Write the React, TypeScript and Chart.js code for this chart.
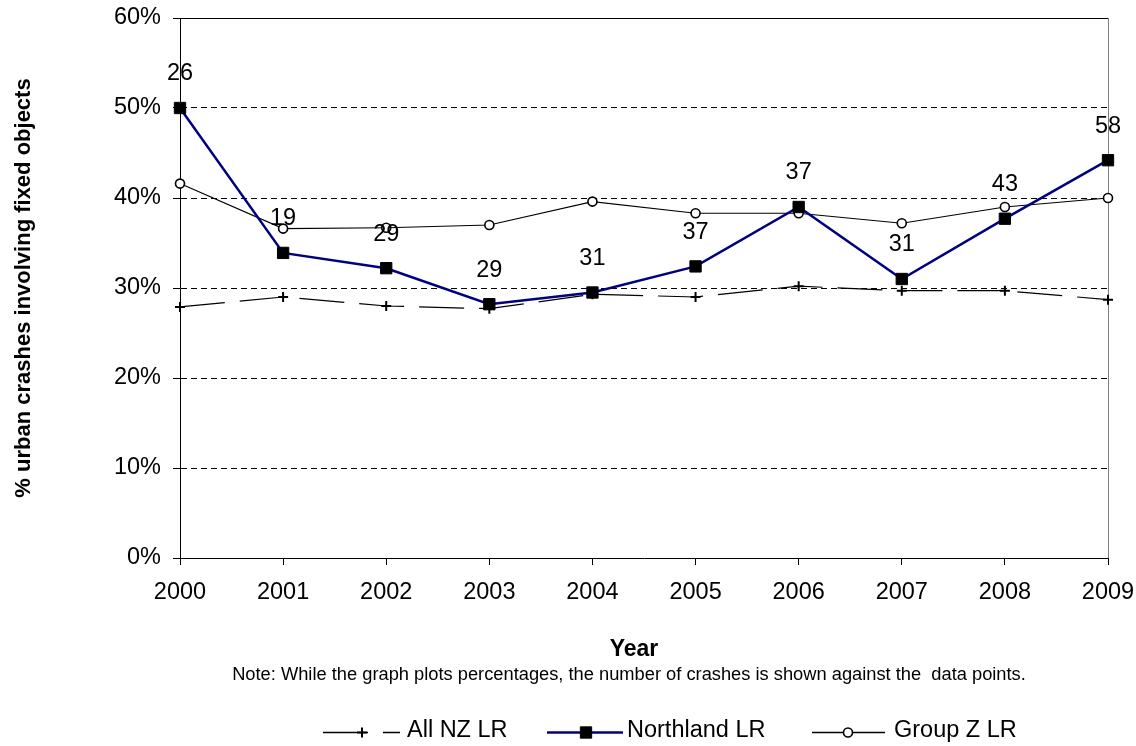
import React, { useEffect, useRef } from "react";
import { Chart, registerables } from "chart.js";

Chart.register(...registerables);

// ---- data ----
const years = ["2000", "2001", "2002", "2003", "2004", "2005", "2006", "2007", "2008", "2009"];
const allNZ = [27.9, 29.0, 28.0, 27.7, 29.3, 29.0, 30.2, 29.7, 29.7, 28.7];
const northland = [50.0, 33.9, 32.2, 28.2, 29.5, 32.4, 39.0, 31.0, 37.7, 44.2];
const groupZ = [41.6, 36.6, 36.7, 37.0, 39.6, 38.3, 38.3, 37.2, 39.0, 40.0];
const northlandCounts = [26, 19, 29, 29, 31, 37, 37, 31, 43, 58];
const seriesNames = ["All NZ LR", "Northland LR", "Group Z LR"];
const yMin = 0;
const yMax = 60;
const yStep = 10;
const yTitle = "% urban crashes involving fixed objects";
const xTitle = "Year";
const noteText = "Note: While the graph plots percentages, the number of crashes is shown against the  data points.";

const NAVY = "#000080";
const FONT = "'Liberation Sans', Arial, Helvetica, sans-serif";
const TEXT_SIZE = 23.5;

function drawMarker(ctx: CanvasRenderingContext2D, ds: any, x: number, y: number) {
  const r = ds.pointRadius;
  ctx.save();
  ctx.setLineDash([]);
  ctx.lineWidth = ds.pointBorderWidth;
  ctx.strokeStyle = ds.pointBorderColor;
  ctx.fillStyle = ds.pointBackgroundColor;
  if (ds.pointStyle === "cross") {
    ctx.beginPath();
    ctx.moveTo(x - r, y);
    ctx.lineTo(x + r, y);
    ctx.moveTo(x, y - r);
    ctx.lineTo(x, y + r);
    ctx.stroke();
  } else if (ds.pointStyle === "rect") {
    const s = Math.SQRT1_2 * r;
    ctx.beginPath();
    ctx.rect(x - s, y - s, 2 * s, 2 * s);
    ctx.fill();
    ctx.stroke();
  } else {
    ctx.beginPath();
    ctx.arc(x, y, r, 0, Math.PI * 2);
    ctx.fill();
    ctx.stroke();
  }
  ctx.restore();
}

export default function App() {
  const ref = useRef<HTMLCanvasElement>(null);

  useEffect(() => {
    const canvas = ref.current;
    if (!canvas) return;

    const countLabels = {
      id: "countLabels",
      afterDatasetsDraw(chart: any) {
        const idx = chart.data.datasets.findIndex((d: any) => d.label === seriesNames[1]);
        const meta = chart.getDatasetMeta(idx);
        const ctx = chart.ctx;
        ctx.save();
        ctx.font = `${TEXT_SIZE}px ${FONT}`;
        ctx.fillStyle = "#000";
        ctx.textAlign = "center";
        ctx.textBaseline = "middle";
        meta.data.forEach((pt: any, i: number) => {
          ctx.fillText(String(northlandCounts[i]), pt.x, pt.y - 34);
        });
        ctx.restore();
      },
    };

    const frame = {
      id: "frame",
      beforeDatasetsDraw(chart: any) {
        const { left, right, top, bottom } = chart.chartArea;
        const ctx = chart.ctx;
        ctx.save();
        ctx.setLineDash([]);
        ctx.lineWidth = 1;
        ctx.strokeStyle = "#000";
        ctx.beginPath();
        ctx.moveTo(left, top + 0.5);
        ctx.lineTo(right, top + 0.5);
        ctx.stroke();
        ctx.strokeStyle = "#808080";
        ctx.beginPath();
        ctx.moveTo(right + 0.5, top);
        ctx.lineTo(right + 0.5, bottom);
        ctx.stroke();
        ctx.restore();
      },
    };

    const bottomTexts = {
      id: "bottomTexts",
      afterDraw(chart: any) {
        const ctx = chart.ctx;
        ctx.save();
        ctx.fillStyle = "#000";
        ctx.textBaseline = "middle";
        ctx.textAlign = "center";
        ctx.font = `bold 23px ${FONT}`;
        ctx.fillText(xTitle, 634, 650);
        ctx.font = `18.3px ${FONT}`;
        ctx.fillText(noteText, 629, 675);

        // legend
        const items = [
          { ds: 0, x0: 323, x1: 400, mx: 362, tx: 407 },
          { ds: 1, x0: 547, x1: 623, mx: 586, tx: 627 },
          { ds: 2, x0: 812, x1: 885, mx: 848, tx: 894 },
        ];
        const y = 732;
        items.forEach((it) => {
          const ds = chart.data.datasets[it.ds];
          const w = Math.max(ds.borderWidth, 1.3);
          ctx.save();
          ctx.strokeStyle = ds.borderColor;
          ctx.lineWidth = w;
          ctx.setLineDash(ds.borderDash || []);
          ctx.beginPath();
          ctx.moveTo(it.x0, y + 0.5);
          ctx.lineTo(it.x1, y + 0.5);
          ctx.stroke();
          ctx.restore();
          drawMarker(ctx, ds, it.mx, y + 0.5);
          ctx.font = `${TEXT_SIZE}px ${FONT}`;
          ctx.textAlign = "left";
          ctx.fillStyle = "#000";
          ctx.fillText(ds.label, it.tx, y - 1);
        });
        ctx.restore();
      },
    };

    const chart = new Chart(canvas, {
      type: "line",
      data: {
        labels: years,
        datasets: [
          {
            label: seriesNames[0],
            data: allNZ,
            borderColor: "#000",
            borderWidth: 1.2,
            borderDash: [45, 15],
            pointStyle: "cross",
            pointRadius: 5,
            pointBorderWidth: 2,
            pointBorderColor: "#000",
            pointBackgroundColor: "#000",
            fill: false,
            tension: 0,
            order: 2,
          },
          {
            label: seriesNames[1],
            data: northland,
            borderColor: NAVY,
            borderWidth: 2.5,
            pointStyle: "rect",
            pointRadius: 8,
            pointBorderWidth: 1,
            pointBorderColor: "#000",
            pointBackgroundColor: "#000",
            fill: false,
            tension: 0,
            order: 0,
          },
          {
            label: seriesNames[2],
            data: groupZ,
            borderColor: "#000",
            borderWidth: 1.1,
            pointStyle: "circle",
            pointRadius: 4.5,
            pointBorderWidth: 1.6,
            pointBorderColor: "#000",
            pointBackgroundColor: "#fff",
            fill: false,
            tension: 0,
            order: 1,
          },
        ],
      } as any,
      options: {
        responsive: false,
        animation: false,
        devicePixelRatio: 1,
        layout: { padding: { left: 0, right: 28, top: 18, bottom: 0 } },
        plugins: {
          legend: { display: false },
          tooltip: { enabled: false },
          title: { display: false },
        },
        scales: {
          x: {
            type: "category",
            offset: false,
            grid: {
              drawOnChartArea: false,
              drawTicks: true,
              tickLength: 7,
              tickColor: "#000",
              tickWidth: 1,
            },
            border: { display: true, color: "#000", width: 1 },
            ticks: {
              color: "#000",
              font: { family: FONT, size: TEXT_SIZE },
              padding: 13,
              maxRotation: 0,
              autoSkip: false,
            },
            afterFit(scale: any) {
              scale.height = 188;
              scale.paddingLeft = 0;
              scale.paddingRight = 0;
            },
          },
          y: {
            min: yMin,
            max: yMax,
            grid: {
              color: (c: any) =>
                c.tick && (c.tick.value === yMin || c.tick.value === yMax) ? "rgba(0,0,0,0)" : "#000",
              lineWidth: 1,
              drawTicks: true,
              tickLength: 7,
              tickColor: "#000",
              tickWidth: 1,
              tickBorderDash: [],
            },
            border: { display: true, color: "#000", width: 1, dash: [6, 4] },
            ticks: {
              stepSize: yStep,
              color: "#000",
              font: { family: FONT, size: TEXT_SIZE },
              padding: 12,
              callback: (v: any) => `${v}%`,
            },
            title: {
              display: true,
              text: yTitle,
              color: "#000",
              font: { family: FONT, size: 22, weight: "bold" },
              padding: { top: 11, bottom: 0 },
            },
            afterFit(scale: any) {
              scale.width = 180;
              scale.paddingTop = 0;
              scale.paddingBottom = 0;
            },
          },
        },
      } as any,
      plugins: [frame, countLabels, bottomTexts],
    });

    return () => chart.destroy();
  }, []);

  return (
    <div style={{ position: "fixed", left: 0, top: 0, width: 1136, height: 746, background: "#fff" }}>
      <canvas ref={ref} width={1136} height={746} style={{ display: "block" }} />
    </div>
  );
}
